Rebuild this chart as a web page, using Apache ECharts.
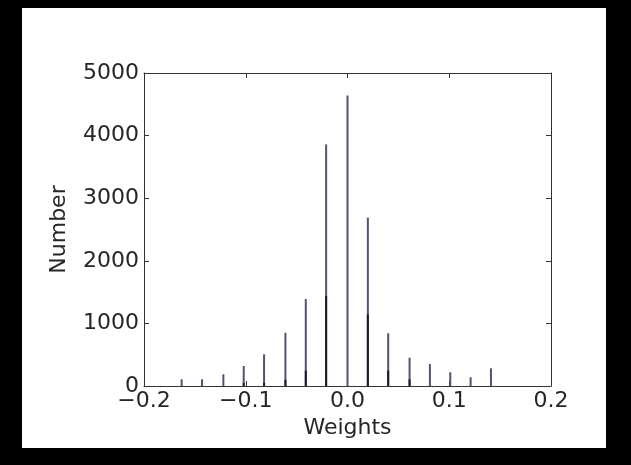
<!DOCTYPE html>
<html>
<head>
<meta charset="utf-8">
<script src="https://cdn.jsdelivr.net/npm/echarts@6/dist/echarts.min.js"></script>
<style>
  html, body { margin: 0; padding: 0; background: #000; width: 631px; height: 465px; overflow: hidden; }
  #chart { position: absolute; left: 22px; top: 8px; width: 584px; height: 440px; background: #fff; }
</style>
</head>
<body>
<div id="chart"></div>
<script>
// Histogram of quantized weights: one tall bar per quantization level,
// with a darker, shorter bar from the neighbouring bin drawn on top.
const weightLevels = [-0.163, -0.143, -0.122, -0.102, -0.082, -0.061, -0.041, -0.021,
                      0.0, 0.020, 0.040, 0.061, 0.081, 0.101, 0.121, 0.141];
const counts = [107, 107, 187, 320, 506, 851, 1390, 3860,
                4640, 2690, 842, 452, 351, 219, 139, 283];
const neighbourLevels = [-0.102, -0.082, -0.061, -0.041, -0.021, 0.020, 0.040, 0.061];
const neighbourCounts = [50, 50, 100, 245, 1438, 1145, 245, 107];
const xTickLabels = ['\u22120.2', '\u22120.1', '0.0', '0.1', '0.2'];
const yTickLabels = ['0', '1000', '2000', '3000', '4000', '5000'];

const font = 'DejaVu Sans';
const textColor = '#262626';
const frameColor = '#333';

const chart = echarts.init(document.getElementById('chart'), null, { renderer: 'canvas' });

// Shared styling for the four sides of the box: plain frame line with inward ticks.
function frameAxis(extra) {
  return Object.assign({
    axisLine: { show: true, onZero: false, lineStyle: { color: frameColor, width: 1 } },
    axisTick: { show: true, inside: true, length: 5, lineStyle: { color: frameColor } },
    splitLine: { show: false }
  }, extra);
}

chart.setOption({
  animation: false,
  backgroundColor: '#fff',
  grid: { left: 122, top: 65, width: 407, height: 313 },
  xAxis: [
    frameAxis({
      type: 'value', position: 'bottom', min: -0.2, max: 0.2, interval: 0.1,
      name: 'Weights', nameLocation: 'middle', nameGap: 31,
      nameTextStyle: { fontFamily: font, fontSize: 22, color: textColor },
      axisLabel: {
        fontFamily: font, fontSize: 22, color: textColor, margin: 4,
        formatter: v => xTickLabels[Math.round((v + 0.2) / 0.1)]
      }
    }),
    frameAxis({
      type: 'value', position: 'top', min: -0.2, max: 0.2, interval: 0.1,
      axisLabel: { show: false }
    })
  ],
  yAxis: [
    frameAxis({
      type: 'value', position: 'left', min: 0, max: 5000, interval: 1000,
      name: 'Number', nameLocation: 'middle', nameGap: 74,
      nameTextStyle: { fontFamily: font, fontSize: 22, color: textColor },
      axisLabel: {
        fontFamily: font, fontSize: 22, color: textColor, margin: 5,
        formatter: v => yTickLabels[Math.round(v / 1000)]
      }
    }),
    frameAxis({
      type: 'value', position: 'right', min: 0, max: 5000, interval: 1000,
      axisLabel: { show: false }
    })
  ],
  series: [
    {
      type: 'bar',
      xAxisIndex: 0, yAxisIndex: 0,
      barWidth: 2,
      barGap: '-100%',
      itemStyle: { color: '#4f5470' },
      data: weightLevels.map((w, i) => [w, counts[i]])
    },
    {
      type: 'bar',
      xAxisIndex: 0, yAxisIndex: 0,
      barWidth: 2,
      barGap: '-100%',
      itemStyle: { color: '#191b2b' },
      data: neighbourLevels.map((w, i) => [w, neighbourCounts[i]])
    }
  ]
});
</script>
</body>
</html>
